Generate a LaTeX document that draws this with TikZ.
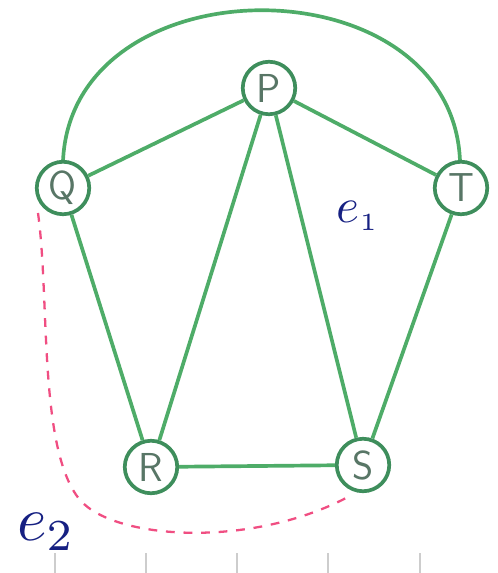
\documentclass[tikz,border=0pt]{standalone}
\usepackage{xcolor}
\usepackage{tikz}
\usepackage{amsmath, amssymb}

\definecolor{edgegreen}{RGB}{78,172,104}
\definecolor{ringgreen}{RGB}{62,142,92}
\definecolor{lettergray}{RGB}{88,118,102}
\definecolor{inkblue}{RGB}{22,32,130}
\definecolor{dashpink}{RGB}{240,78,130}
\definecolor{tickgray}{RGB}{205,205,205}

\begin{document}
\begin{tikzpicture}[x=0.02cm, y=-0.02cm,
  every node/.style={circle, draw=ringgreen, line width=2.1pt, fill=white, minimum size=1.05cm, inner sep=0pt, text=lettergray, font=\sffamily\fontsize{23}{23}\selectfont},
  edge/.style={draw=edgegreen, line width=2.1pt},
  ink/.style={draw=none, fill=none, text=inkblue, font=\normalsize}]
  \useasboundingbox (0,0) rectangle (497,573);

  % ticks along the bottom
  \foreach \tx in {55,146,237,328,420}
    \draw[tickgray, line width=1.2pt] (\tx,553) -- (\tx,573);

  % outer arc
  \draw[edge] (63,161) .. controls (72,-40) and (452,-40) .. (460,161);

  % vertices
  \node (P) at (269,88) {P};
  \node (Q) at (63,188) {Q};
  \node (T) at (461,188) {T};
  \node (R) at (151,467) {R};
  \node (S) at (363,465) {S};

  % edges
  \draw[edge] (Q) -- (P);
  \draw[edge] (P) -- (T);
  \draw[edge] (Q) -- (R);
  \draw[edge] (P) -- (R);
  \draw[edge] (P) -- (S);
  \draw[edge] (T) -- (S);
  \draw[edge] (R) -- (S);

  % dashed curve
  \coordinate (d1) at (38,213);
  \coordinate (d2) at (346,498);
  \draw[dashpink, line width=1.3pt, dash pattern=on 5pt off 5pt]
    (d1) .. controls (50,300) and (38,450) .. (80,500)
    .. controls (115,540) and (250,548) .. (d2);

  % labels
  \node[ink] (e1) at (358,216) {\scalebox{2.8}{$e_{\scriptscriptstyle 1}$}};
  \node[ink] (e2) at (46,532) {\scalebox{3.6}{$e_{2}$}};
\end{tikzpicture}
\end{document}
